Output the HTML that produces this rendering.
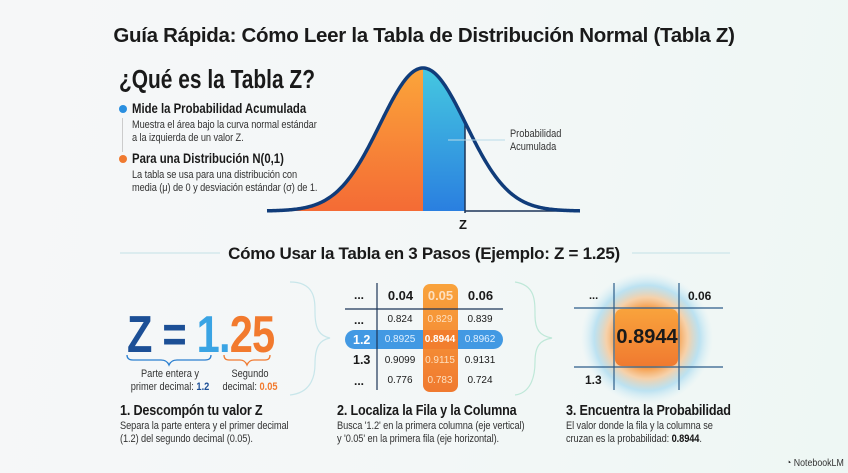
<!DOCTYPE html>
<html><head><meta charset="utf-8"><style>
body{margin:0;width:848px;height:473px;overflow:hidden;background:linear-gradient(100deg,#f6f7f8 0%,#f3f7f7 55%,#eef7f4 100%);font-family:"Liberation Sans",sans-serif;color:#1a1a1a;position:relative}
.a{position:absolute;white-space:nowrap}
.b{font-weight:bold}
.c{text-align:center}
.n{transform:scaleX(0.84);transform-origin:left top}
.nc{transform:scaleX(0.84);transform-origin:center top}
.t{font-size:11px;color:#333;line-height:12.5px;letter-spacing:-0.1px}
.h{font-weight:bold;letter-spacing:-0.2px}
</style></head><body>
<div class="a b c" style="left:0;width:848px;top:24px;font-size:20.5px;letter-spacing:-0.3px">Guía Rápida: Cómo Leer la Tabla de Distribución Normal (Tabla Z)</div>
<div class="a b n" style="left:119px;top:66px;font-size:25.5px;transform:scaleX(0.82)">¿Qué es la Tabla Z?</div>
<div class="a" style="left:119px;top:105px;width:8px;height:8px;border-radius:50%;background:#2a8fe0"></div>
<div class="a b n" style="left:132px;top:101px;font-size:13.5px">Mide la Probabilidad Acumulada</div>
<div class="a t n" style="left:132px;top:119px">Muestra el área bajo la curva normal estándar<br>a la izquierda de un valor Z.</div>
<div class="a" style="left:122px;top:118px;width:1px;height:34px;background:#ccc"></div>
<div class="a" style="left:119px;top:155px;width:8px;height:8px;border-radius:50%;background:#f07a30"></div>
<div class="a b n" style="left:132px;top:151px;font-size:13.5px">Para una Distribución N(0,1)</div>
<div class="a t n" style="left:132px;top:169px">La tabla se usa para una distribución con<br>media (μ) de 0 y desviación estándar (σ) de 1.</div>
<svg class="a" style="left:0;top:0" width="848" height="473">
<defs>
<linearGradient id="go" x1="0" y1="0" x2="0" y2="1"><stop offset="0" stop-color="#fba53a"/><stop offset="1" stop-color="#f46b35"/></linearGradient>
<linearGradient id="gb" x1="0" y1="0" x2="0" y2="1"><stop offset="0" stop-color="#45c8e0"/><stop offset="1" stop-color="#2a7fe0"/></linearGradient>
<radialGradient id="glow"><stop offset="0.45" stop-color="#f7953a" stop-opacity="0.95"/><stop offset="0.62" stop-color="#f9b878" stop-opacity="0.6"/><stop offset="0.8" stop-color="#7cc8ec" stop-opacity="0.45"/><stop offset="1" stop-color="#bfe6f5" stop-opacity="0"/></radialGradient>
<linearGradient id="ob" x1="0" y1="0" x2="0" y2="1"><stop offset="0" stop-color="#f9a33c"/><stop offset="1" stop-color="#f07a30"/></linearGradient>
</defs>
<path id="po" fill="url(#go)"/><path id="pb" fill="url(#gb)"/>
<line x1="465" y1="122" x2="465" y2="213" stroke="#1c3558" stroke-width="1.5"/>
<line x1="465" y1="211" x2="580" y2="211" stroke="#1c3558" stroke-width="1.5"/>
<path id="pc" fill="none" stroke="#103c7a" stroke-width="3.5"/>
<line x1="448" y1="140" x2="505" y2="140" stroke="#b8dbe8" stroke-width="1"/>
<line x1="120" y1="253" x2="220" y2="253" stroke="#c4e1e6" stroke-width="1"/>
<line x1="632" y1="253" x2="730" y2="253" stroke="#c4e1e6" stroke-width="1"/>
<path d="M290 282 C315 282 315 300 315 312 C315 330 320 336 330 338 C320 340 315 346 315 364 C315 378 310 393 290 395" fill="none" stroke="#c8e6ea" stroke-width="1.2"/>
<path d="M515 282 C535 285 535 300 535 315 C535 330 540 336 552 338 C540 340 535 346 535 362 C535 378 530 393 515 395" fill="none" stroke="#bfe8d8" stroke-width="1.2"/>
<path d="M127 355 q0 5 6 5 h28 q6 0 8 5 q2 -5 8 -5 h28 q6 0 6 -5" fill="none" stroke="#2a7fd0" stroke-width="1.3"/>
<path d="M224 355 q0 5 5 5 h11 q5 0 7 5 q2 -5 7 -5 h11 q5 0 5 -5" fill="none" stroke="#f07a30" stroke-width="1.3"/>
<rect x="423" y="284" width="35" height="108" rx="7" fill="url(#ob)"/>
<rect x="345" y="330" width="158" height="19" rx="9.5" fill="#2f8ee0" opacity="0.9"/>
<rect x="423" y="330" width="35" height="19" fill="#f27e2e"/>
<line x1="345" y1="309" x2="503" y2="309" stroke="#1c3558" stroke-width="1.2"/>
<line x1="377" y1="283" x2="377" y2="390" stroke="#1c3558" stroke-width="1.2"/>
<circle cx="647" cy="338" r="66" fill="url(#glow)"/>
<line x1="574" y1="308" x2="723" y2="308" stroke="#2c5d8a" stroke-width="1.2"/>
<line x1="574" y1="367" x2="723" y2="367" stroke="#2c5d8a" stroke-width="1.2"/>
<line x1="614" y1="283" x2="614" y2="390" stroke="#2c5d8a" stroke-width="1.2"/>
<line x1="679" y1="283" x2="679" y2="390" stroke="#2c5d8a" stroke-width="1.2"/>
<rect x="615" y="309" width="63" height="57" rx="7" fill="url(#ob)"/>
</svg>
<script>
function g(x){return 211-143*Math.exp(-Math.pow((x-423)/43,2)/2);}
function seg(a,b){var s="M"+a+" 211";for(var x=a;x<=b;x+=1)s+=" L"+x+" "+g(x).toFixed(2);return s+" L"+b+" 211Z";}
document.getElementById("po").setAttribute("d",seg(267,423));
document.getElementById("pb").setAttribute("d",seg(423,465));
var s="M267 "+g(267).toFixed(2);for(var x=268;x<=580;x++)s+=" L"+x+" "+g(x).toFixed(2);
document.getElementById("pc").setAttribute("d",s);
</script>
<div class="a n" style="left:510px;top:128px;font-size:11px;color:#333;line-height:13px">Probabilidad<br>Acumulada</div>
<div class="a b" style="left:459px;top:217px;font-size:13px">Z</div>
<div class="a b c" style="left:0;width:848px;top:244px;font-size:17px;letter-spacing:-0.3px">Cómo Usar la Tabla en 3 Pasos (Ejemplo: Z = 1.25)</div>
<div class="a b n" style="left:127px;top:308px;font-size:52px;line-height:54px;letter-spacing:-1px;transform:scaleX(0.8)"><span style="color:#1c4f96">Z = </span><span style="color:#3aa4e4">1.</span><span style="color:#f27a2e">25</span></div>
<div class="a c nc" style="left:120px;top:368px;width:100px;font-size:11px;color:#333;line-height:12.5px">Parte entera y<br>primer decimal: <b style="color:#1c4f96">1.2</b></div>
<div class="a c nc" style="left:215px;top:368px;width:70px;font-size:11px;color:#333;line-height:12.5px">Segundo<br>decimal: <b style="color:#f27a2e">0.05</b></div>
<div class="a h n" style="left:120px;top:402px;font-size:15px">1. Descompón tu valor Z</div>
<div class="a t n" style="left:120px;top:420px">Separa la parte entera y el primer decimal<br>(1.2) del segundo decimal (0.05).</div>
<div class="a b" style="left:354px;top:288px;font-size:12px">...</div>
<div class="a b c" style="left:383px;width:35px;top:288px;font-size:13px">0.04</div>
<div class="a b c" style="left:423px;width:35px;top:288px;font-size:13px;color:#fde0bf">0.05</div>
<div class="a b c" style="left:463px;width:35px;top:288px;font-size:13px">0.06</div>
<div class="a b" style="left:354px;top:313px;font-size:12px">...</div>
<div class="a b" style="left:353px;top:333px;font-size:12.5px;color:#fff">1.2</div>
<div class="a b" style="left:353px;top:353px;font-size:12.5px">1.3</div>
<div class="a b" style="left:354px;top:374px;font-size:12px">...</div>
<div class="a c" style="left:380px;width:40px;top:314px;font-size:10px">0.824</div>
<div class="a c" style="left:420px;width:40px;top:314px;font-size:10px;color:#fde0bf">0.829</div>
<div class="a c" style="left:460px;width:40px;top:314px;font-size:10px">0.839</div>
<div class="a c" style="left:380px;width:40px;top:334px;font-size:10px;color:#e0f0ff">0.8925</div>
<div class="a b c" style="left:420px;width:40px;top:334px;font-size:10px;color:#fff">0.8944</div>
<div class="a c" style="left:460px;width:40px;top:334px;font-size:10px;color:#e0f0ff">0.8962</div>
<div class="a c" style="left:380px;width:40px;top:355px;font-size:10px">0.9099</div>
<div class="a c" style="left:420px;width:40px;top:355px;font-size:10px;color:#fde0bf">0.9115</div>
<div class="a c" style="left:460px;width:40px;top:355px;font-size:10px">0.9131</div>
<div class="a c" style="left:380px;width:40px;top:375px;font-size:10px">0.776</div>
<div class="a c" style="left:420px;width:40px;top:375px;font-size:10px;color:#fde0bf">0.783</div>
<div class="a c" style="left:460px;width:40px;top:375px;font-size:10px">0.724</div>
<div class="a h n" style="left:337px;top:402px;font-size:15px">2. Localiza la Fila y la Columna</div>
<div class="a t n" style="left:337px;top:420px">Busca '1.2' en la primera columna (eje vertical)<br>y '0.05' en la primera fila (eje horizontal).</div>
<div class="a b" style="left:589px;top:290px;font-size:11px">...</div>
<div class="a b" style="left:688px;top:289px;font-size:12px">0.06</div>
<div class="a b" style="left:585px;top:373px;font-size:12px">1.3</div>
<div class="a b c" style="left:614px;width:66px;top:326px;font-size:20px">0.8944</div>
<div class="a h n" style="left:566px;top:402px;font-size:15px">3. Encuentra la Probabilidad</div>
<div class="a t n" style="left:566px;top:420px">El valor donde la fila y la columna se<br>cruzan es la probabilidad: <b style="color:#111">0.8944</b>.</div>
<div class="a n" style="left:786px;top:457px;font-size:10.5px;color:#333">◔ NotebookLM</div>
</body></html>
